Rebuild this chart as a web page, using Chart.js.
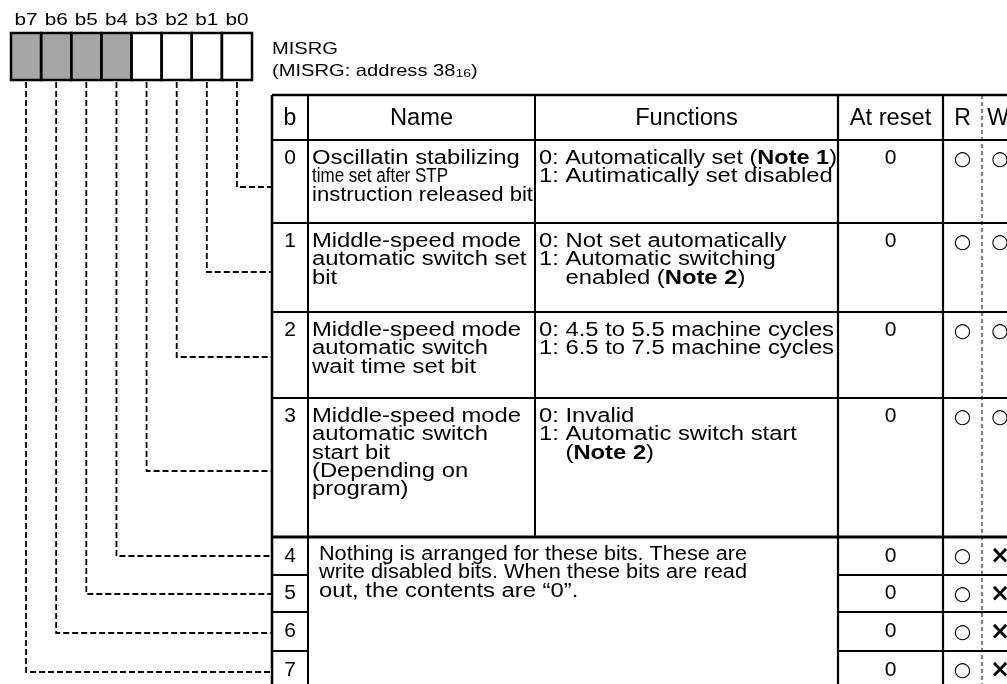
<!DOCTYPE html>
<html>
<head>
<meta charset="utf-8">
<script src="https://cdn.jsdelivr.net/npm/chart.js@4.4.1/dist/chart.umd.min.js"></script>
<style>
  html, body { margin: 0; padding: 0; background: #fff; }
  canvas { display: block; }
</style>
</head>
<body>
<canvas id="regChart" width="1007" height="684"></canvas>
<script>
// register bits, MSB first (as drawn)
const bitLabels = ['b7', 'b6', 'b5', 'b4', 'b3', 'b2', 'b1', 'b0'];
const bitBox = [1, 1, 1, 1, 1, 1, 1, 1];
const bitUnused = [true, true, true, true, false, false, false, false];

const regName = 'MISRG';
const regAddress = ['(MISRG: address 38', '16', ')'];

const headers = ['b', 'Name', 'Functions', 'At reset', 'R', 'W'];

// table rows, bit 0 first; **...** = bold
const rowBits = ['0', '1', '2', '3', '4', '5', '6', '7'];
const rowNames = [
  ['Oscillatin stabilizing', 'time set after STP', 'instruction released bit'],
  ['Middle-speed mode', 'automatic switch set', 'bit'],
  ['Middle-speed mode', 'automatic switch', 'wait time set bit'],
  ['Middle-speed mode', 'automatic switch', 'start bit', '(Depending on', 'program)']
];
const narrowLines = ['time set after STP'];
const rowFunctions = [
  ['0: Automatically set (**Note 1**)', '1: Autimatically set disabled'],
  ['0: Not set automatically', '1: Automatic switching', '    enabled (**Note 2**)'],
  ['0: 4.5 to 5.5 machine cycles', '1: 6.5 to 7.5 machine cycles'],
  ['0: Invalid', '1: Automatic switch start', '    (**Note 2**)']
];
const unusedText = [
  'Nothing is arranged for these bits. These are',
  'write disabled bits. When these bits are read',
  'out, the contents are \u201c0\u201d.'
];
const atReset = ['0', '0', '0', '0', '0', '0', '0', '0'];
const readable = ['\u25cb', '\u25cb', '\u25cb', '\u25cb', '\u25cb', '\u25cb', '\u25cb', '\u25cb'];
const writable = ['\u25cb', '\u25cb', '\u25cb', '\u25cb', '\u00d7', '\u00d7', '\u00d7', '\u00d7'];

// layout
const W = 1007, H = 684;
const FONT = '"Liberation Sans", Arial, Helvetica, sans-serif';
const SX = 1.19; // body text in the original is a bit stretched sideways
const colX = [272, 308, 535, 838, 943, 982];
const rowTop = [140, 223, 312, 398, 537, 575, 612, 651, 700];
const tableTop = 95;
const leaderY = [187, 272, 357, 471, 556, 594, 633, 672];

function richText(ctx, str, x, y, size, align, maxW, sxIn) {
  const parts = str.split('**');
  let total = 0;
  const widths = parts.map((p, i) => {
    ctx.font = (i % 2 ? 'bold ' : '') + size + 'px ' + FONT;
    const w = ctx.measureText(p).width;
    total += w;
    return w;
  });
  let sx = sxIn || SX;
  if (maxW && total * sx > maxW) sx = maxW / total;
  ctx.save();
  ctx.translate(x, y);
  ctx.scale(sx, 1);
  ctx.textBaseline = 'middle';
  ctx.textAlign = 'left';
  let cx = align === 'center' ? -total / 2 : 0;
  parts.forEach((p, i) => {
    ctx.font = (i % 2 ? 'bold ' : '') + size + 'px ' + FONT;
    ctx.fillText(p, cx, 0);
    cx += widths[i];
  });
  ctx.restore();
}

function line(ctx, x1, y1, x2, y2, lw, dash) {
  ctx.save();
  ctx.lineWidth = lw;
  ctx.setLineDash(dash || []);
  ctx.beginPath();
  ctx.moveTo(x1, y1);
  ctx.lineTo(x2, y2);
  ctx.stroke();
  ctx.restore();
}

function symbol(ctx, s, x, y) {
  ctx.save();
  ctx.font = (s === '\u00d7' ? 'bold 24px ' : '20px ') + '"DejaVu Sans", sans-serif';
  ctx.textAlign = 'center';
  ctx.textBaseline = 'middle';
  ctx.fillText(s, x, y + 1);
  ctx.restore();
}

const registerPlugin = {
  id: 'registerTable',
  beforeDraw(chart) {
    const ctx = chart.ctx;
    ctx.save();
    ctx.fillStyle = '#fff';
    ctx.fillRect(0, 0, W, H);
    ctx.restore();
  },
  afterDatasetsDraw(chart) {
    const ctx = chart.ctx;
    const meta = chart.getDatasetMeta(0);
    ctx.save();
    ctx.strokeStyle = '#000';
    ctx.lineWidth = 2.5;
    meta.data.forEach(bar => {
      const p = bar.getProps(['x', 'y', 'base', 'width'], true);
      ctx.strokeRect(p.x - p.width / 2, p.y, p.width, p.base - p.y);
    });
    ctx.restore();
  },
  afterDraw(chart) {
    const ctx = chart.ctx;
    const xs = chart.scales.x;
    const area = chart.chartArea;
    ctx.save();
    ctx.fillStyle = '#000';
    ctx.strokeStyle = '#000';

    // bit labels above the boxes
    bitLabels.forEach((lb, i) => {
      richText(ctx, lb, xs.getPixelForValue(i), 20, 17, 'center', 0, 1.22);
    });

    // register name
    richText(ctx, regName, 272, 49, 16.5, 'left', 0, 1.22);
    ctx.font = '16.5px ' + FONT;
    const w1 = ctx.measureText(regAddress[0]).width * 1.22;
    richText(ctx, regAddress[0], 272, 71, 16.5, 'left', 0, 1.22);
    ctx.font = '11.5px ' + FONT;
    const w2 = ctx.measureText(regAddress[1]).width * 1.22;
    richText(ctx, regAddress[1], 272 + w1, 74, 11.5, 'left', 0, 1.22);
    richText(ctx, regAddress[2], 272 + w1 + w2, 71, 16.5, 'left', 0, 1.22);

    // leader lines from each bit to its row
    bitLabels.forEach((lb, i) => {
      const bit = 7 - i;
      const x = xs.getPixelForValue(i);
      const y = leaderY[bit];
      ctx.save();
      ctx.lineWidth = 1.8;
      ctx.setLineDash([6, 3]);
      ctx.beginPath();
      ctx.moveTo(x, area.bottom + 2);
      ctx.lineTo(x, y);
      ctx.lineTo(colX[0], y);
      ctx.stroke();
      ctx.restore();
    });

    // table grid
    const bottom = rowTop[rowTop.length - 1];
    line(ctx, colX[0], tableTop, W, tableTop, 2.5);
    line(ctx, colX[0], tableTop, colX[0], bottom, 2.5);
    line(ctx, colX[1], tableTop, colX[1], bottom, 2);
    line(ctx, colX[2], tableTop, colX[2], rowTop[4], 2);
    line(ctx, colX[3], tableTop, colX[3], bottom, 2.2);
    line(ctx, colX[4], tableTop, colX[4], bottom, 2.2);
    line(ctx, colX[5], tableTop, colX[5], bottom, 1, [4, 3]);
    for (let r = 0; r < 5; r++) line(ctx, colX[0], rowTop[r], W, rowTop[r], r === 4 ? 3 : 2.2);
    for (let r = 5; r < 8; r++) {
      line(ctx, colX[0], rowTop[r], colX[1], rowTop[r], 1.8);
      line(ctx, colX[3], rowTop[r], W, rowTop[r], 2);
    }

    // header
    const hy = (tableTop + rowTop[0]) / 2 + 1;
    richText(ctx, headers[0], (colX[0] + colX[1]) / 2, hy, 23, 'center', 0, 1);
    richText(ctx, headers[1], (colX[1] + colX[2]) / 2, hy, 23, 'center', 0, 1.03);
    richText(ctx, headers[2], (colX[2] + colX[3]) / 2, hy, 23, 'center', 0, 1.03);
    richText(ctx, headers[3], (colX[3] + colX[4]) / 2, hy, 23, 'center', 0, 1.03);
    richText(ctx, headers[4], (colX[4] + colX[5]) / 2, hy, 23, 'center', 0, 1);
    richText(ctx, headers[5], colX[5] + 16, hy, 23, 'center', 0, 1);

    // described bits
    const lh = 18.3;
    rowNames.forEach((names, r) => {
      const y0 = rowTop[r] + 18.5;
      richText(ctx, rowBits[r], (colX[0] + colX[1]) / 2, y0, 20, 'center', 0, 1.05);
      names.forEach((t, k) => {
        const sx = narrowLines.includes(t) ? 0.85 : SX;
        richText(ctx, t, colX[1] + 4, y0 + k * lh, 20, 'left', colX[2] - colX[1] - 6, sx);
      });
      rowFunctions[r].forEach((t, k) => richText(ctx, t, colX[2] + 4, y0 + k * lh, 20, 'left', colX[3] - colX[2] - 5));
      richText(ctx, atReset[r], (colX[3] + colX[4]) / 2, y0, 20, 'center', 0, 1.05);
      symbol(ctx, readable[r], (colX[4] + colX[5]) / 2, y0);
      symbol(ctx, writable[r], colX[5] + 18, y0);
    });

    // unused bits
    for (let r = 4; r < 8; r++) {
      const y = r === 7 ? 670 : (rowTop[r] + rowTop[r + 1]) / 2;
      richText(ctx, rowBits[r], (colX[0] + colX[1]) / 2, y, 20, 'center', 0, 1.05);
      richText(ctx, atReset[r], (colX[3] + colX[4]) / 2, y, 20, 'center', 0, 1.05);
      symbol(ctx, readable[r], (colX[4] + colX[5]) / 2, y);
      symbol(ctx, writable[r], colX[5] + 18, y);
    }
    unusedText.forEach((t, k) => richText(ctx, t, 319, rowTop[4] + 17 + k * 18.5, 20, 'left', 428));

    ctx.restore();
  }
};

const ctx = document.getElementById('regChart').getContext('2d');
new Chart(ctx, {
  type: 'bar',
  data: {
    labels: bitLabels,
    datasets: [{
      data: bitBox,
      backgroundColor: bitUnused.map(u => u ? '#a6a6a6' : '#ffffff'),
      borderWidth: 0,
      barPercentage: 1,
      categoryPercentage: 1
    }]
  },
  options: {
    responsive: false,
    animation: false,
    devicePixelRatio: 1,
    layout: { padding: { left: 11, top: 33, right: W - 252, bottom: H - 80 } },
    plugins: { legend: { display: false }, tooltip: { enabled: false } },
    scales: {
      x: { display: false },
      y: { display: false, min: 0, max: 1 }
    }
  },
  plugins: [registerPlugin]
});
</script>
</body>
</html>
